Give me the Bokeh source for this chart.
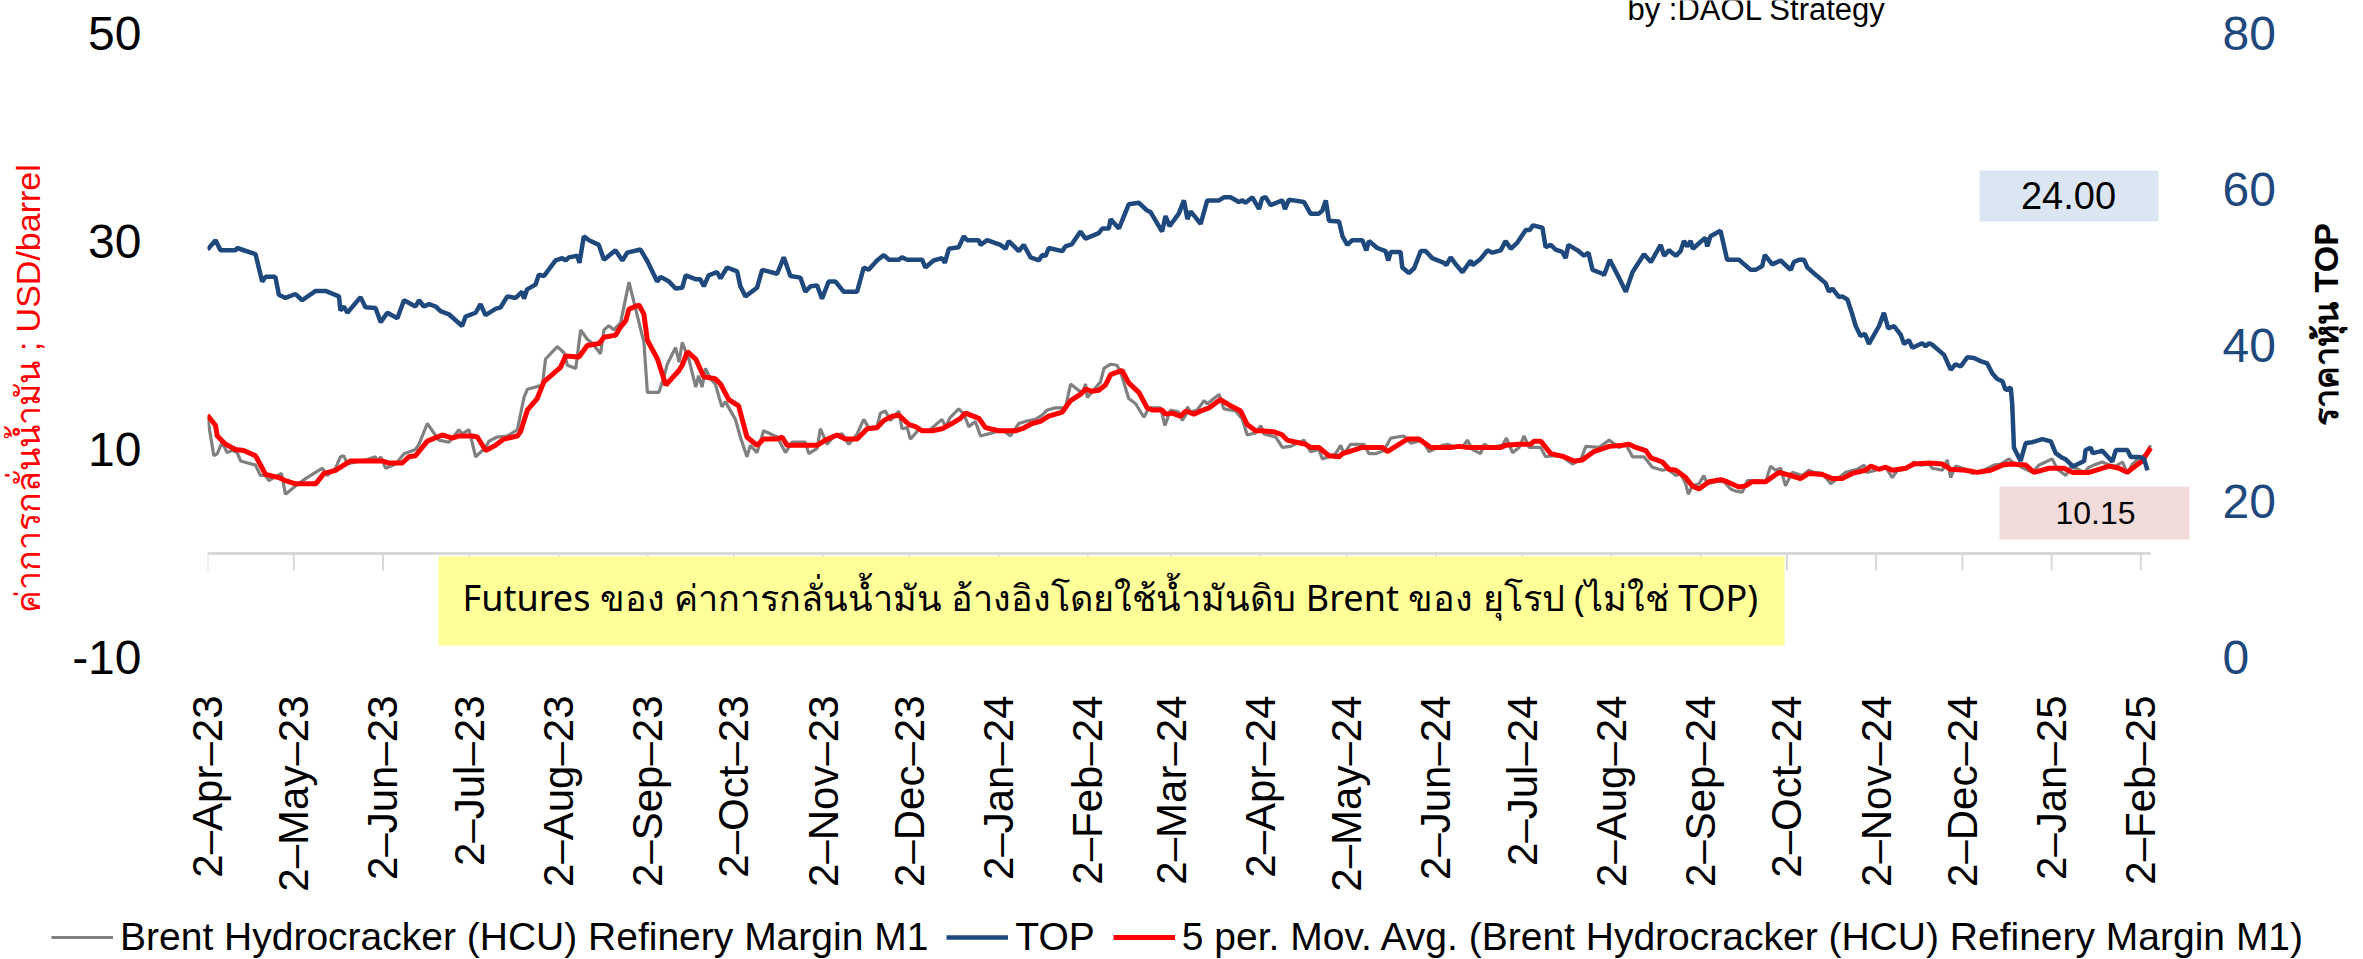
import numpy as np
import pandas as pd
from bokeh.plotting import figure
from bokeh.layouts import column, row
from bokeh.models import (Range1d, LinearAxis, FixedTicker, Label, BoxAnnotation,
                          Legend, LegendItem, ColumnDataSource)
from bokeh.embed import file_html
from bokeh.resources import INLINE

# ---------------- data (day offset from 2-Apr-2023, value) ----------------
START = pd.Timestamp("2023-04-02")
LAST_DAY = 675.4      # last observation
X_END_DAY = 691       # end of the x range (leaves room for the value boxes)

tick_labels = ["2–Apr–23", "2–May–23", "2–Jun–23", "2–Jul–23", "2–Aug–23", "2–Sep–23",
               "2–Oct–23", "2–Nov–23", "2–Dec–23", "2–Jan–24", "2–Feb–24", "2–Mar–24",
               "2–Apr–24", "2–May–24", "2–Jun–24", "2–Jul–24", "2–Aug–24", "2–Sep–24",
               "2–Oct–24", "2–Nov–24", "2–Dec–24", "2–Jan–25", "2–Feb–25"]

left_ticks = [-10, 10, 30, 50]
right_ticks = [0, 20, 40, 60, 80]

# TOP share price (right axis)
top_price = [
    (0, 52.3), (2.8, 53.5), (4.5, 52.2), (9.7, 52.2), (10.3, 52.5), (16.7, 51.7), (19.0, 48.2),
    (20.2, 48.8), (23.6, 48.8), (24.8, 46.5), (27.1, 46.1), (30.6, 46.6), (32.9, 45.8), (37.6, 47.0),
    (41.0, 47.0), (45.7, 46.3), (46.2, 44.5), (47.4, 45.0), (48.6, 44.2), (53.2, 46.2), (54.9, 44.9),
    (58.4, 44.8), (60.2, 43.0), (62.5, 44.2), (66.0, 43.5), (68.3, 45.8), (72.3, 45.0), (73.5, 45.8),
    (75.2, 45.0), (77.0, 45.3), (79.3, 45.0), (81.0, 44.4), (83.9, 44.0), (88.5, 42.5), (89.7, 43.7),
    (93.2, 44.2), (94.9, 45.3), (96.6, 43.9), (100.1, 44.7), (101.9, 44.9), (104.2, 46.3), (107.1, 46.1),
    (109.4, 46.9), (110.0, 46.0), (111.1, 47.2), (114.0, 47.8), (115.2, 49.1), (116.9, 48.9), (121.0, 50.9),
    (123.3, 51.2), (124.5, 50.9), (125.6, 51.3), (128.5, 51.5), (129.3, 50.6), (130.8, 54.0), (132.6, 53.5),
    (136.0, 52.9), (137.8, 51.0), (141.8, 52.2), (144.2, 50.9), (145.9, 51.9), (150.5, 52.3), (152.9, 50.8),
    (156.3, 48.2), (157.5, 48.8), (160.4, 48.2), (162.7, 47.3), (165.0, 47.4), (166.2, 49.0), (169.6, 48.5),
    (171.3, 48.5), (172.5, 47.6), (174.2, 49.0), (177.1, 49.4), (178.3, 48.6), (180.6, 50.0), (184.1, 49.5),
    (185.2, 47.6), (187.0, 46.3), (191.0, 47.4), (192.8, 49.7), (198.0, 49.2), (200.3, 51.3), (202.6, 48.9),
    (206.1, 48.7), (207.8, 46.9), (209.6, 47.6), (211.9, 47.7), (213.6, 46.0), (215.9, 48.2), (218.3, 48.2),
    (221.1, 46.9), (225.8, 46.9), (228.1, 50.0), (229.8, 49.7), (232.7, 50.9), (235.1, 51.6), (236.8, 51.0),
    (240.3, 51.0), (241.4, 51.3), (243.2, 51.0), (248.4, 51.0), (249.5, 50.0), (252.4, 50.9), (255.3, 51.2),
    (256.3, 50.6), (257.7, 52.4), (261.1, 52.6), (262.9, 54.0), (264.0, 53.5), (268.1, 53.5), (268.7, 52.9),
    (271.0, 53.5), (275.6, 52.9), (277.4, 52.4), (278.5, 53.4), (282.0, 52.1), (283.7, 52.9), (286.1, 51.3),
    (289.0, 50.9), (290.1, 51.6), (291.3, 51.5), (292.4, 52.5), (297.1, 52.1), (298.2, 52.7), (300.5, 53.0),
    (303.4, 54.6), (305.2, 53.7), (309.8, 54.4), (311.0, 55.0), (313.3, 55.0), (313.9, 56.2), (316.8, 55.0),
    (320.2, 58.1), (323.7, 58.3), (326.6, 57.3), (327.8, 57.1), (331.8, 54.6), (333.0, 56.6), (334.4, 55.3),
    (337.6, 56.9), (339.4, 58.6), (340.6, 56.2), (341.7, 57.2), (343.5, 56.4), (345.2, 55.6), (347.5, 58.6),
    (351.6, 58.6), (353.3, 59.0), (355.6, 59.0), (358.5, 58.4), (359.7, 58.6), (360.8, 58.3), (363.2, 59.0),
    (365.5, 57.5), (366.6, 58.9), (367.8, 59.0), (369.5, 58.0), (373.6, 58.6), (374.5, 57.5), (375.9, 58.7),
    (381.1, 58.4), (383.4, 56.9), (386.3, 56.9), (387.5, 57.3), (388.7, 58.6), (389.8, 56.0), (393.3, 55.9),
    (394.5, 54.0), (396.2, 52.9), (397.9, 53.5), (401.4, 53.5), (402.8, 52.2), (403.7, 53.4), (406.6, 52.5),
    (409.5, 52.1), (410.4, 50.9), (411.3, 52.0), (414.7, 52.0), (415.3, 50.0), (417.6, 49.3), (419.4, 49.9),
    (421.7, 52.1), (423.4, 52.1), (425.7, 51.2), (429.8, 50.6), (430.6, 50.3), (432.1, 51.3), (433.9, 50.4),
    (436.2, 49.4), (439.1, 50.9), (439.7, 50.3), (442.5, 51.1), (444.9, 52.2), (446.6, 51.9), (449.5, 52.2),
    (451.2, 53.4), (453.0, 52.4), (455.3, 53.2), (458.2, 54.8), (459.6, 54.8), (460.7, 55.4), (464.0, 55.1),
    (465.1, 52.6), (466.9, 52.9), (468.6, 52.3), (470.9, 52.0), (472.1, 51.2), (473.0, 52.9), (476.2, 52.2),
    (478.5, 51.5), (480.0, 51.9), (481.4, 49.7), (484.9, 49.2), (485.4, 49.0), (487.4, 51.0), (490.6, 48.7),
    (493.0, 46.9), (495.3, 49.4), (499.3, 51.7), (501.7, 50.7), (505.1, 52.9), (506.3, 51.5), (508.0, 52.2),
    (510.4, 51.5), (512.0, 52.1), (513.2, 53.4), (514.3, 52.7), (515.5, 53.4), (516.3, 52.4), (519.0, 53.3),
    (520.7, 53.8), (521.3, 52.7), (522.4, 54.0), (525.9, 54.7), (528.2, 51.0), (532.3, 51.0), (536.4, 49.7),
    (538.1, 49.7), (540.4, 50.2), (541.3, 51.6), (543.9, 50.4), (546.8, 50.9), (550.3, 49.7), (551.4, 50.7),
    (553.2, 51.0), (554.9, 51.0), (556.1, 50.0), (559.5, 48.9), (562.4, 48.0), (563.6, 46.9), (564.8, 47.3),
    (567.1, 46.2), (568.2, 46.3), (570.0, 45.9), (571.7, 44.0), (572.9, 42.5), (574.6, 41.2), (576.1, 41.5),
    (577.5, 40.2), (581.0, 42.5), (582.7, 44.2), (584.2, 42.2), (586.2, 42.5), (588.5, 41.4), (589.7, 40.2),
    (591.4, 40.7), (592.6, 39.7), (596.0, 40.3), (597.2, 39.9), (598.4, 40.3), (599.5, 40.1), (603.6, 38.8),
    (605.9, 36.9), (607.6, 37.6), (609.4, 37.3), (611.7, 38.5), (614.0, 38.4), (616.3, 38.0), (618.6, 37.7),
    (620.4, 36.4), (622.1, 35.7), (623.9, 35.4), (625.0, 34.3), (626.8, 34.6), (627.3, 32.4), (627.9, 26.9),
    (630.2, 25.2), (632.0, 27.5), (634.3, 27.6), (637.8, 28.0), (640.7, 27.7), (642.4, 26.2), (644.7, 25.6),
    (645.9, 25.4), (648.4, 24.5), (652.3, 25.2), (652.8, 26.6), (654.6, 26.9), (655.2, 26.2), (657.5, 26.4),
    (658.6, 26.5), (662.1, 25.1), (663.3, 26.6), (667.3, 26.6), (668.5, 25.7), (671.4, 25.7), (673.1, 25.5),
    (674.3, 24.0),
]

# Brent Hydrocracker (HCU) refinery margin M1 (left axis)
hcu_margin = [
    (0, 13.1), (2.2, 9.4), (3.4, 9.6), (5.1, 10.7), (6.8, 9.7), (8.6, 9.9), (10.3, 9.7), (11.5, 8.9),
    (16.7, 8.5), (18.4, 7.5), (20.2, 7.5), (21.3, 7.0), (23.1, 7.3), (25.7, 7.7), (27.1, 5.7), (30.6, 6.5),
    (34.1, 7.2), (37.0, 7.7), (39.9, 8.2), (41.6, 7.5), (44.5, 8.2), (46.2, 9.3), (47.4, 9.4), (48.6, 8.6),
    (51.5, 8.8), (55.0, 9.0), (58.4, 9.3), (59.0, 8.8), (60.2, 9.3), (61.9, 8.2), (65.4, 8.6), (68.3, 9.6),
    (72.3, 10.0), (73.5, 10.5), (76.4, 12.5), (80.4, 10.9), (83.9, 10.7), (87.4, 11.9), (88.5, 11.5),
    (90.9, 11.9), (93.2, 9.3), (96.7, 10.2), (97.8, 10.8), (100.7, 11.2), (104.2, 11.3), (107.7, 11.9),
    (110.0, 15.0), (111.2, 15.8), (114.0, 16.0), (116.4, 16.2), (117.5, 18.7), (121.6, 19.9), (123.9, 19.3),
    (125.1, 18.1), (128.0, 17.8), (129.7, 21.5), (132.0, 20.6), (133.8, 20.2), (136.6, 19.2), (137.8, 21.5),
    (139.5, 21.9), (141.3, 21.5), (143.6, 22.2), (146.5, 26.1), (151.7, 20.3), (152.9, 15.5), (156.9, 15.5),
    (158.7, 17.0), (159.8, 18.2), (162.7, 19.8), (163.9, 18.4), (165.0, 20.3), (167.4, 18.6), (169.7, 16.0),
    (170.7, 17.1), (171.9, 16.0), (173.1, 17.8), (174.8, 16.8), (176.5, 16.3), (178.8, 14.1), (180.0, 14.6),
    (183.5, 12.9), (185.2, 11.2), (187.5, 9.3), (188.7, 10.4), (191.0, 9.7), (193.3, 11.8), (198.0, 11.2),
    (200.9, 9.7), (203.2, 10.7), (207.8, 10.7), (209.0, 9.6), (211.9, 10.1), (213.0, 12.0), (215.4, 10.5),
    (217.7, 11.3), (220.6, 11.5), (222.9, 10.5), (225.8, 11.5), (228.1, 12.9), (229.8, 12.1), (232.7, 12.2),
    (233.9, 13.5), (235.6, 13.7), (237.4, 12.8), (240.3, 13.7), (241.4, 12.0), (243.2, 12.1), (244.3, 11.0),
    (247.2, 11.9), (250.7, 11.8), (255.3, 12.9), (256.5, 12.2), (258.2, 13.1), (261.1, 13.9), (262.9, 13.4),
    (264.6, 12.2), (266.9, 12.7), (268.7, 11.3), (272.7, 11.6), (276.2, 11.9), (279.1, 11.3), (282.0, 12.5),
    (284.3, 12.7), (287.8, 12.9), (290.1, 13.3), (291.9, 13.8), (294.7, 14.0), (298.2, 14.0), (300.0, 16.3),
    (302.3, 15.8), (304.0, 15.4), (305.2, 16.3), (305.8, 15.0), (310.4, 16.5), (311.6, 17.8), (313.9, 18.2),
    (316.2, 18.1), (317.9, 17.0), (320.2, 14.9), (322.6, 14.4), (325.5, 13.1), (327.2, 14.0), (331.3, 14.0),
    (332.8, 12.3), (334.7, 13.8), (337.6, 13.6), (338.8, 12.8), (340.0, 13.3), (340.6, 14.1), (341.7, 13.6),
    (344.0, 13.8), (346.4, 14.7), (347.5, 14.4), (351.6, 15.3), (353.3, 13.9), (357.4, 13.7), (359.7, 12.9),
    (361.4, 11.4), (364.3, 11.6), (366.1, 12.3), (367.2, 11.5), (371.3, 11.2), (373.6, 10.2), (376.5, 10.3),
    (381.1, 10.9), (383.4, 9.8), (386.3, 10.0), (387.5, 9.1), (389.8, 9.3), (392.1, 9.6), (393.9, 10.4),
    (395.0, 9.6), (397.3, 10.5), (402.0, 10.5), (403.7, 9.6), (406.0, 9.6), (408.9, 9.9), (411.3, 11.1),
    (413.6, 11.2), (415.9, 11.3), (418.2, 10.6), (422.3, 10.9), (424.6, 9.8), (429.2, 10.4), (431.0, 10.5),
    (433.9, 10.2), (436.2, 10.2), (437.9, 10.9), (439.7, 10.0), (442.5, 9.6), (443.7, 10.5), (446.0, 10.2),
    (450.1, 10.4), (451.5, 11.1), (453.6, 9.7), (455.9, 10.2), (457.6, 11.3), (459.4, 10.2), (463.4, 10.2),
    (465.1, 9.3), (467.5, 9.4), (470.9, 9.3), (474.4, 8.6), (477.3, 9.0), (479.1, 10.3), (483.7, 10.2),
    (487.2, 10.9), (490.6, 10.2), (493.0, 10.5), (495.3, 9.3), (499.3, 9.3), (502.2, 8.3), (505.7, 8.0),
    (507.5, 8.1), (510.4, 7.5), (512.0, 7.7), (513.8, 6.7), (514.7, 5.7), (516.1, 6.5), (518.4, 6.7),
    (520.1, 7.5), (521.3, 6.7), (524.2, 6.9), (527.1, 6.9), (529.4, 6.2), (531.1, 6.0), (533.5, 5.9),
    (535.2, 7.0), (538.1, 7.0), (541.6, 6.9), (543.3, 8.4), (545.0, 8.0), (546.8, 8.2), (548.5, 6.5),
    (550.8, 7.8), (554.3, 7.5), (556.6, 8.0), (558.4, 7.8), (561.3, 7.7), (564.2, 6.7), (567.1, 7.3),
    (569.4, 7.8), (573.4, 8.1), (575.8, 8.5), (576.9, 7.8), (581.0, 8.1), (583.3, 8.3), (585.6, 7.3),
    (587.4, 8.0), (590.3, 8.1), (593.1, 8.8), (595.5, 8.5), (598.4, 8.6), (599.5, 8.2), (603.0, 8.0),
    (604.7, 9.0), (605.9, 7.3), (607.6, 8.4), (611.1, 8.1), (613.4, 7.7), (618.1, 8.1), (620.9, 8.5),
    (623.3, 8.6), (626.2, 9.1), (627.3, 8.8), (632.0, 8.1), (634.3, 7.8), (636.6, 8.5), (638.9, 8.8),
    (641.2, 9.1), (643.0, 8.1), (645.9, 7.5), (647.6, 8.3), (649.4, 8.2), (652.3, 7.8), (654.0, 8.3),
    (655.7, 8.5), (658.6, 8.8), (661.0, 8.5), (663.3, 8.4), (665.6, 8.8), (667.3, 7.7), (669.1, 8.6),
    (671.4, 9.2), (673.7, 9.5), (675.4, 10.4),
]

# 5 per. moving average of the margin (left axis)
hcu_ma5 = [
    (0, 13.3), (2.8, 12.3), (3.4, 11.3), (6.3, 10.5), (9.7, 10.0), (12.6, 9.9), (16.7, 9.4), (20.2, 7.6),
    (24.8, 7.3), (27.1, 7.0), (30.6, 6.7), (37.6, 6.7), (40.5, 7.7), (44.5, 8.0), (49.7, 8.9), (52.6, 8.9),
    (60.7, 8.9), (63.1, 8.7), (67.7, 8.7), (70.0, 9.3), (72.3, 9.4), (76.4, 10.8), (81.6, 11.4), (85.1, 11.1),
    (87.4, 11.3), (92.0, 11.3), (93.8, 11.2), (96.7, 9.9), (100.1, 10.4), (103.0, 11.0), (107.7, 11.3),
    (108.8, 11.7), (111.2, 13.8), (114.6, 14.9), (116.9, 16.5), (122.7, 17.9), (124.5, 19.0), (129.1, 18.9),
    (132.0, 20.0), (136.1, 20.2), (137.8, 20.8), (141.9, 21.0), (143.6, 21.8), (145.4, 22.4), (146.5, 23.5),
    (150.0, 23.9), (151.7, 23.0), (152.9, 20.5), (156.4, 18.7), (159.3, 16.2), (163.9, 17.6), (165.0, 18.1),
    (166.8, 19.4), (169.7, 18.7), (172.5, 17.0), (176.5, 16.8), (178.3, 16.3), (181.2, 14.8), (184.6, 14.2),
    (187.5, 11.2), (191.0, 10.4), (193.3, 11.0), (198.0, 11.0), (199.7, 11.2), (201.5, 10.4), (211.9, 10.4),
    (214.8, 10.9), (218.8, 11.4), (221.7, 11.0), (225.8, 11.0), (229.3, 12.0), (232.7, 12.1), (235.1, 12.8),
    (238.0, 13.2), (240.3, 13.3), (243.8, 12.4), (246.1, 12.2), (248.4, 11.8), (251.9, 11.8), (255.3, 12.0),
    (258.8, 12.5), (261.7, 13.0), (263.5, 13.5), (268.1, 13.0), (270.4, 12.1), (275.0, 11.8), (280.8, 11.8),
    (283.2, 12.0), (286.6, 12.5), (289.5, 12.7), (292.4, 13.2), (297.1, 13.6), (300.0, 14.7), (303.4, 15.3),
    (305.2, 15.8), (307.5, 15.6), (309.8, 15.7), (312.1, 16.2), (313.9, 17.2), (317.9, 17.6), (320.2, 16.4),
    (323.7, 15.5), (326.6, 14.0), (328.4, 13.8), (331.8, 13.8), (333.0, 13.4), (335.3, 13.5), (338.2, 13.2),
    (340.0, 13.7), (342.9, 13.4), (345.2, 13.7), (348.1, 14.0), (352.1, 14.8), (355.6, 14.2), (359.1, 13.7),
    (361.4, 12.4), (364.3, 11.8), (366.6, 11.8), (370.7, 11.7), (373.6, 11.4), (375.3, 10.9), (380.0, 10.6),
    (381.7, 10.5), (383.4, 10.2), (386.3, 10.2), (389.8, 9.4), (393.3, 9.3), (394.5, 9.6), (397.9, 9.9),
    (401.4, 10.2), (408.4, 10.2), (410.1, 9.8), (413.0, 10.3), (417.1, 11.0), (421.1, 11.0), (425.2, 10.2),
    (432.1, 10.2), (435.0, 10.3), (438.5, 10.2), (449.5, 10.2), (451.2, 10.4), (455.9, 10.5), (459.9, 10.5),
    (461.1, 10.8), (463.4, 10.8), (466.9, 9.6), (471.5, 9.3), (475.0, 8.9), (477.9, 9.0), (481.9, 9.8),
    (487.2, 10.3), (491.8, 10.4), (494.1, 10.5), (496.5, 10.2), (499.9, 9.9), (501.7, 9.2), (505.7, 8.8),
    (508.0, 8.1), (510.4, 8.0), (513.8, 7.3), (516.1, 6.5), (518.4, 6.2), (521.9, 6.9), (525.9, 7.1),
    (528.2, 6.9), (532.3, 6.4), (534.6, 6.5), (536.9, 6.9), (541.6, 6.9), (546.2, 7.8), (550.3, 7.5),
    (553.7, 7.2), (556.6, 7.7), (561.3, 7.6), (564.8, 7.2), (568.2, 7.2), (571.7, 7.7), (576.3, 8.0),
    (578.1, 8.4), (581.0, 8.1), (583.3, 8.3), (585.6, 8.0), (590.3, 8.2), (593.1, 8.6), (598.4, 8.7),
    (603.0, 8.6), (605.9, 8.1), (611.1, 8.0), (615.2, 7.8), (619.8, 8.0), (623.9, 8.5), (626.8, 8.6),
    (632.0, 8.5), (634.9, 7.8), (640.1, 8.2), (645.3, 8.2), (648.2, 7.8), (654.0, 7.8), (656.3, 8.0),
    (661.0, 8.4), (664.4, 8.2), (667.3, 7.8), (669.1, 8.2), (672.5, 8.9), (675.4, 10.15),
]

last_top = "24.00"
last_ma = "10.15"

FONT = "Liberation Sans"
BLUE = "#1F497D"
GRAY = "#808080"
RED = "#FF0000"

# ---------------- geometry (page pixels; the page has no margin) ----------------
TOTAL_W, TOTAL_H = 2363, 959
FRAME_LEFT, FRAME_RIGHT = 207, 2195   # x of 2-Apr-23 and of the end of the x range
FRAME_BOTTOM = 657                    # y of the "-10" / "0" level
X_AXIS_SPACE = 255                    # room for the rotated date labels
LEFT_W = 56                           # strip holding the left axis title
RIGHT_W = 60                          # strip holding the right axis title
MAIN_W = TOTAL_W - LEFT_W - RIGHT_W
MAIN_H = FRAME_BOTTOM + X_AXIS_SPACE
LEG_H = TOTAL_H - MAIN_H
FRAME_TOP_PAD = 33                    # page top to the "50" / "80" level
PX_PER_UNIT_L = 624 / 60.0            # left axis: -10..50 spans 624 px
PX_PER_UNIT_R = 624 / 80.0            # right axis: 0..80 spans 624 px


def to_source(pairs):
    days = np.array([d for d, _ in pairs], dtype=float)
    vals = np.array([v for _, v in pairs], dtype=float)
    dates = START + pd.to_timedelta(days, unit="D")
    return ColumnDataSource(dict(x=dates, y=vals))


p = figure(width=MAIN_W, height=MAIN_H, x_axis_type="datetime",
           x_range=Range1d(START, START + pd.Timedelta(days=X_END_DAY)),
           y_range=Range1d(-10, 50 + FRAME_TOP_PAD / PX_PER_UNIT_L),
           output_backend="svg", toolbar_location=None,
           min_border_left=FRAME_LEFT - LEFT_W,
           min_border_right=LEFT_W + MAIN_W - FRAME_RIGHT,
           min_border_top=0, min_border_bottom=X_AXIS_SPACE)
p.title.visible = False
p.outline_line_color = None
p.grid.visible = False
p.background_fill_color = "white"
p.border_fill_color = "white"
p.extra_y_ranges = {"top": Range1d(0, 80 + FRAME_TOP_PAD / PX_PER_UNIT_R)}


def plain_axis(ax, standoff, size, color):
    ax.axis_line_color = None
    ax.major_tick_line_color = None
    ax.minor_tick_line_color = None
    ax.major_tick_out = 0
    ax.major_tick_in = 0
    ax.minor_tick_out = 0
    ax.minor_tick_in = 0
    ax.major_label_standoff = standoff
    ax.major_label_text_font = FONT
    ax.major_label_text_font_size = size
    ax.major_label_text_color = color


# x axis (labels only; the visible axis line sits at y = 0)
tick_dates = pd.date_range(START, periods=len(tick_labels), freq=pd.DateOffset(months=1))
tick_ms = [int(d.value // 10**6) for d in tick_dates]
xa = p.xaxis[0]
xa.ticker = FixedTicker(ticks=tick_ms)
xa.major_label_overrides = {ms: lab for ms, lab in zip(tick_ms, tick_labels)}
xa.major_label_orientation = np.pi / 2
plain_axis(xa, 38, "42px", "black")

ya = p.yaxis[0]
ya.ticker = FixedTicker(ticks=left_ticks)
ya.major_label_overrides = {t: str(t) for t in left_ticks}
plain_axis(ya, 66, "48px", "black")

yr = LinearAxis(y_range_name="top", ticker=FixedTicker(ticks=right_ticks))
plain_axis(yr, 27, "48px", BLUE)
p.add_layout(yr, "right")

# axis line at zero + tick marks
p.segment(x0=[START], y0=[0], x1=[START + pd.Timedelta(days=LAST_DAY)], y1=[0],
          line_color="#d9d9d9", line_width=3)
p.ray(x=tick_dates, y=0, length=17, length_units="screen", angle=-np.pi / 2,
      line_color="#d9d9d9", line_width=2)

# series
r_gray = p.line("x", "y", source=to_source(hcu_margin), line_color=GRAY, line_width=3.2)
r_red = p.line("x", "y", source=to_source(hcu_ma5), line_color=RED, line_width=5)
r_blue = p.line("x", "y", source=to_source(top_price), y_range_name="top",
                line_color=BLUE, line_width=4.5)


# annotation boxes (screen units relative to the plot frame)
def sbox(l, r, t, b, color):
    return BoxAnnotation(left=l, right=r, top=t, bottom=b,
                         left_units="screen", right_units="screen",
                         top_units="screen", bottom_units="screen",
                         fill_color=color, fill_alpha=1.0, line_color=None)


p.add_layout(sbox(231, 1577, 101, 12, "#FFFF99"))
p.add_layout(sbox(1772, 1951, 487, 436, "#DCE6F2"))
p.add_layout(sbox(1792, 1982, 171, 118, "#F2DCDB"))


def slabel(x, y, text, size, color="black", align="left", baseline="middle", font=FONT,
           angle=0, style="normal"):
    return Label(x=x, y=y, x_units="screen", y_units="screen", text=text,
                 text_font=font, text_font_size=size, text_color=color,
                 text_align=align, text_baseline=baseline, angle=angle,
                 text_font_style=style)


p.add_layout(slabel(255, 60,
                    "Futures ของ ค่าการกลั่นน้ำมัน อ้างอิงโดยใช้น้ำมันดิบ Brent ของ ยุโรป (ไม่ใช่ TOP)",
                    "36px", font="Noto Sans"))
p.add_layout(slabel(1861, 462, last_top, "38px", align="center"))
p.add_layout(slabel(1888, 145, last_ma, "32px", align="center"))
p.add_layout(slabel(1420, FRAME_BOTTOM - 9, "by :DAOL Strategy", "31px", baseline="alphabetic"))


def blank(width, height):
    f = figure(width=width, height=height, x_range=Range1d(0, 1), y_range=Range1d(0, 1),
               output_backend="svg", toolbar_location=None, min_border=0,
               x_axis_location=None, y_axis_location=None)
    f.title.visible = False
    f.outline_line_color = None
    f.grid.visible = False
    f.background_fill_color = "white"
    f.border_fill_color = "white"
    return f


# axis titles in side strips (their frames line up with the main frame)
left_strip = blank(LEFT_W, MAIN_H)
left_strip.add_layout(slabel(27, FRAME_BOTTOM - 388, "ค่าการกลั่นน้ำมัน ; USD/barrel", "34px",
                             color=RED, align="center", angle=np.pi / 2))
right_strip = blank(RIGHT_W, MAIN_H)
right_strip.add_layout(slabel(22, FRAME_BOTTOM - 324, "ราคาหุ้น TOP", "34px", align="center",
                              angle=np.pi / 2, style="bold"))

# legend strip (placeholder renderers carry only the line styles)
leg = blank(TOTAL_W, LEG_H)
g_gray = leg.line(x=[np.nan], y=[np.nan], line_color=GRAY, line_width=3.2)
g_blue = leg.line(x=[np.nan], y=[np.nan], line_color=BLUE, line_width=4.5)
g_red = leg.line(x=[np.nan], y=[np.nan], line_color=RED, line_width=5)
legend = Legend(items=[
    LegendItem(label="Brent Hydrocracker (HCU) Refinery Margin M1", renderers=[g_gray]),
    LegendItem(label="TOP", renderers=[g_blue]),
    LegendItem(label="5 per. Mov. Avg. (Brent Hydrocracker (HCU) Refinery Margin M1)", renderers=[g_red]),
], orientation="horizontal", location=(51, 0))
legend.label_text_font = FONT
legend.label_text_font_size = "39px"
legend.label_text_color = "black"
legend.glyph_width = 62
legend.label_standoff = 7
legend.spacing = 18
legend.padding = 0
legend.margin = 0
legend.border_line_color = None
legend.background_fill_alpha = 0
leg.add_layout(legend, "center")

layout = column(row(left_strip, p, right_strip, spacing=0), leg, spacing=0)
open("out.html", "w").write(file_html(layout, INLINE))
